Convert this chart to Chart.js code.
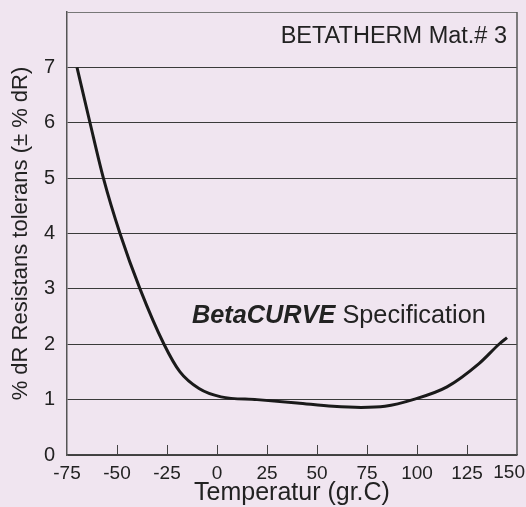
<!DOCTYPE html>
<html>
<head>
<meta charset="utf-8">
<script src="https://cdn.jsdelivr.net/npm/chart.js@4/dist/chart.umd.min.js"></script>
<style>
  html, body { margin: 0; padding: 0; background: #f0e5f0; }
  #wrap { width: 526px; height: 507px; }
</style>
</head>
<body>
<div id="wrap"><canvas id="c" width="526" height="507"></canvas></div>
<script>
// Temperature (gr.C) and tolerance (± % dR)
const temps = [-70, -63.5, -56.8, -48.5, -38.5, -26.5, -18.5, -9, 2, 20, 40, 58, 72, 84, 98, 115, 131, 141, 145]
const tolerance = [7.0, 6.0, 5.0, 4.0, 3.0, 2.0, 1.5, 1.2, 1.05, 1.0, 0.94, 0.88, 0.86, 0.88, 1.0, 1.23, 1.65, 2.0, 2.12]

const xTicks = [-75, -50, -25, 0, 25, 50, 75, 100, 125, 150]
const yTicks = [0, 1, 2, 3, 4, 5, 6, 7]

const FONT = 'Liberation Sans, Arial, sans-serif'

// inward x ticks, right border, last x label and the two captions
const decor = {
  id: 'decor',
  afterDraw (chart) {
    const { ctx, chartArea: a, scales: { x, y } } = chart
    ctx.save()
    ctx.strokeStyle = '#444'
    ctx.lineWidth = 1
    xTicks.slice(1, -1).forEach(v => {
      const px = Math.round(x.getPixelForValue(v)) + 0.5
      ctx.beginPath()
      ctx.moveTo(px, a.bottom)
      ctx.lineTo(px, a.bottom - 10)
      ctx.stroke()
    })
    ctx.strokeStyle = '#555'
    ctx.lineWidth = 1.5
    ctx.beginPath()
    ctx.moveTo(a.right, a.top)
    ctx.lineTo(a.right, a.bottom)
    ctx.stroke()

    ctx.fillStyle = '#222'
    // the last tick label sits pulled in against the edge
    ctx.font = '19px ' + FONT
    ctx.textAlign = 'right'
    ctx.textBaseline = 'top'
    const last = xTicks[xTicks.length - 1]
    ctx.fillText(String(last), x.getPixelForValue(last) + 8, a.bottom + 8)

    ctx.textBaseline = 'alphabetic'
    ctx.font = '23.5px ' + FONT
    ctx.fillText('BETATHERM Mat.# 3', x.getPixelForValue(145), y.getPixelForValue(7.44))

    ctx.textAlign = 'left'
    const lx = x.getPixelForValue(-12.5)
    const ly = y.getPixelForValue(2.38)
    ctx.font = 'italic bold 25.3px ' + FONT
    ctx.fillText('BetaCURVE', lx, ly)
    const w = ctx.measureText('BetaCURVE ').width
    ctx.font = '25.3px ' + FONT
    ctx.fillText('Specification', lx + w, ly)
    ctx.restore()
  }
}

new Chart(document.getElementById('c').getContext('2d'), {
  type: 'line',
  data: {
    datasets: [{
      data: temps.map((t, i) => ({ x: t, y: tolerance[i] })),
      borderColor: '#1a1a1a',
      borderWidth: 3,
      pointRadius: 0,
      cubicInterpolationMode: 'monotone',
      fill: false
    }]
  },
  options: {
    responsive: false,
    animation: false,
    layout: { padding: { top: 12, right: 9, left: 0, bottom: 0 } },
    plugins: { legend: { display: false }, tooltip: { enabled: false } },
    scales: {
      x: {
        type: 'linear',
        min: -75,
        max: 150,
        afterBuildTicks: s => { s.ticks = xTicks.map(v => ({ value: v })) },
        afterFit: s => { s.height = 52; s.paddingRight = 0; s.paddingLeft = 0 },
        grid: { display: false, drawTicks: false },
        border: { display: true, color: '#444', width: 1.5 },
        ticks: {
          color: '#222',
          font: { family: FONT, size: 19 },
          padding: 7,
          maxRotation: 0,
          callback: v => v === 150 ? '' : v
        },
        title: {
          display: true,
          text: 'Temperatur (gr.C)',
          color: '#222',
          font: { family: FONT, size: 25 },
          padding: { top: 0, bottom: -1 }
        }
      },
      y: {
        min: 0,
        max: 8,
        afterBuildTicks: s => { s.ticks = yTicks.concat([8]).map(v => ({ value: v })) },
        afterFit: s => { s.width = 67; s.paddingTop = 0; s.paddingBottom = 0 },
        grid: {
          drawTicks: false,
          color: ctx => ctx.tick && ctx.tick.value === 8 ? '#777' : '#3a3a3a',
          lineWidth: 1
        },
        border: { display: true, color: '#555', width: 1.5 },
        ticks: {
          color: '#222',
          font: { family: FONT, size: 20 },
          padding: 12,
          callback: v => v === 8 ? '' : v
        },
        title: {
          display: true,
          text: '% dR Resistans tolerans (± % dR)',
          color: '#222',
          font: { family: FONT, size: 22 },
          padding: { top: 8, bottom: 0 }
        }
      }
    }
  },
  plugins: [decor]
})
</script>
</body>
</html>
